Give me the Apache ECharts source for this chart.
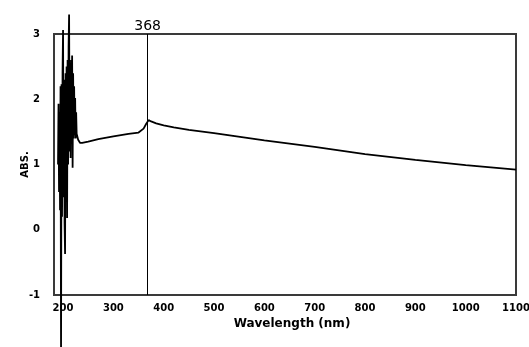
<!DOCTYPE html>
<html>
<head>
<meta charset="utf-8">
<script src="https://cdn.jsdelivr.net/npm/echarts@6/dist/echarts.min.js"></script>
<style>
  html, body { margin: 0; padding: 0; background: #fff; }
  #chart { width: 529px; height: 347px; }
</style>
</head>
<body>
<div id="chart"></div>
<script>
// wavelength (nm) and absorbance
var wavelength = [190, 191, 192, 193, 194, 195, 196, 197, 198, 199,
    200, 201, 202, 203, 204, 205, 206, 207, 208, 209,
    210, 211, 212, 213, 214, 215, 216, 217, 218, 219,
    220, 221, 222, 223, 224, 225, 226, 227, 230, 234,
    238, 250, 270, 300, 330, 350, 360, 365, 370, 375,
    385, 400, 420, 450, 500, 600, 700, 800, 900, 1000, 1100];
var absorbance = [1.0, 1.93, 0.58, 1.8, 0.3, 2.2, -1.85, 2.23, 0.2, 2.4,
    3.06, 0.5, 2.3, 0.1, -0.37, 2.4, 0.6, 2.5, 0.18, 2.6,
    1.0, 2.8, 3.3, 1.2, 2.5, 1.1, 2.6, 1.36, 2.67, 0.95,
    2.4, 1.4, 2.2, 1.45, 2.02, 1.4, 1.8, 1.47, 1.38, 1.33,
    1.33, 1.35, 1.39, 1.43, 1.47, 1.49, 1.55, 1.62, 1.68, 1.66,
    1.63, 1.60, 1.57, 1.53, 1.48, 1.37, 1.27, 1.16, 1.07, 0.99, 0.92];
var xTicks = [200, 300, 400, 500, 600, 700, 800, 900, 1000, 1100];
var peakMark = 368;

var chart = echarts.init(document.getElementById('chart'));

var tickFont = {
    fontFamily: 'DejaVu Sans',
    fontWeight: 'bold',
    fontSize: 10,
    color: '#000'
};

chart.setOption({
    animation: false,
    grid: {
        left: 54,
        right: 13,
        top: 34,
        bottom: 52,
        outerBoundsMode: 'none',
        containLabel: false,
        show: true,
        borderColor: '#3a3a3a',
        borderWidth: 2
    },
    xAxis: {
        type: 'value',
        min: 182,
        max: 1100,
        name: 'Wavelength (nm)',
        nameLocation: 'middle',
        nameGap: 23,
        nameMoveOverlap: false,
        nameTextStyle: {
            fontFamily: 'DejaVu Sans',
            fontWeight: 'bold',
            fontSize: 12,
            color: '#000',
            padding: [0, 0, 0, 14]
        },
        axisLine: { show: false },
        axisTick: { show: false },
        splitLine: { show: false },
        axisLabel: Object.assign({
            customValues: xTicks,
            margin: 8,
            formatter: function (v) { return String(v); }
        }, tickFont)
    },
    yAxis: {
        type: 'value',
        min: -1,
        max: 3,
        interval: 1,
        name: 'ABS.',
        nameLocation: 'middle',
        nameGap: 24,
        nameMoveOverlap: false,
        nameTextStyle: {
            fontFamily: 'DejaVu Sans',
            fontWeight: 'bold',
            fontSize: 10,
            color: '#000'
        },
        axisLine: { show: false },
        axisTick: { show: false },
        splitLine: { show: false },
        axisLabel: Object.assign({ margin: 14 }, tickFont)
    },
    series: [{
        type: 'line',
        data: wavelength.map(function (w, i) { return [w, absorbance[i]]; }),
        showSymbol: false,
        clip: false,
        lineStyle: { color: '#000', width: 1.8 },
        markLine: {
            silent: true,
            symbol: 'none',
            lineStyle: { color: '#000', width: 1, type: 'solid' },
            label: {
                position: 'end',
                formatter: String(peakMark),
                fontFamily: 'DejaVu Sans',
                fontSize: 14,
                color: '#000',
                distance: 1
            },
            data: [{ xAxis: peakMark }]
        }
    }]
});
</script>
</body>
</html>
